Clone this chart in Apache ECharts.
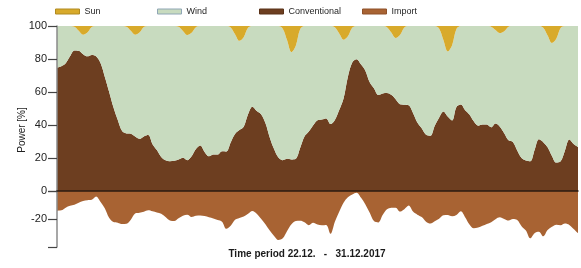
<!DOCTYPE html>
<html><head><meta charset="utf-8">
<script src="https://cdn.jsdelivr.net/npm/echarts@6/dist/echarts.min.js"></script>
<style>html,body{margin:0;padding:0;background:#fff}#c{width:581px;height:268px}</style>
</head><body><div id="c"></div>
<script>
// x categories: hours from 22.12. 00:00 to 01.01. 00:00, every 2 hours
const hours = [];
for (let h = 0; h <= 240; h += 2) hours.push(h);

const conventional = [
74.8,75.6,77.4,81.6,85.2,85.0,82.9,81.6,82.5,81.7,77.7,69.3,
60.2,50.7,43.0,36.3,34.9,34.7,33.0,31.6,33.1,33.9,28.4,24.8,
20.6,18.6,18.1,18.4,19.1,20.1,18.7,21.1,25.5,27.6,23.7,21.0,
22.1,22.1,24.1,24.0,29.4,34.5,36.9,39.0,46.5,51.1,48.5,46.5,
41.2,32.5,25.4,20.3,18.7,19.5,19.1,19.5,26.0,33.0,36.0,39.8,
42.9,43.4,44.0,40.6,43.1,49.1,56.1,69.2,77.9,79.9,76.8,73.1,
66.0,62.2,58.2,59.1,59.4,58.3,55.6,52.6,52.3,51.9,47.3,41.5,
38.0,34.1,33.5,39.6,44.4,48.2,45.1,42.7,50.9,52.4,49.0,46.4,
42.2,39.6,40.3,40.3,38.6,40.9,39.0,35.0,30.7,29.7,24.6,20.0,
18.5,18.0,24.8,31.3,29.6,26.5,21.2,17.2,18.0,24.6,31.2,28.5,
26.7];

const wind = [
25.2,24.4,22.6,18.4,14.3,12.1,11.8,14.4,16.9,18.3,22.3,30.7,
39.8,49.3,57.0,63.7,64.6,62.4,61.7,64.4,66.3,66.1,71.6,75.2,
79.4,81.4,81.9,81.6,80.4,76.9,75.8,74.8,73.8,72.4,76.3,79.0,
77.9,77.9,75.9,76.0,69.7,60.5,54.1,54.2,52.4,48.9,51.5,53.5,
58.8,67.5,74.6,79.7,79.7,71.8,65.1,68.6,72.1,67.0,64.0,60.2,
57.1,56.6,56.0,59.4,56.1,46.3,35.6,24.6,21.1,20.1,23.2,26.9,
34.0,37.8,41.8,40.9,39.9,37.7,37.1,41.9,46.8,48.1,52.7,58.5,
62.0,65.9,66.5,60.4,54.1,43.3,39.5,45.7,47.3,47.6,51.0,53.6,
57.8,60.4,59.7,59.7,61.0,56.7,56.7,61.8,68.8,70.3,75.4,80.0,
81.5,82.0,75.2,68.7,69.4,67.8,68.5,75.1,80.8,75.4,68.8,71.5,
73.3];

const sun = [
0,0,0,0,0.5,2.9,5.3,4.0,0.6,0,0,0,
0,0,0,0,0.5,2.9,5.3,4.0,0.6,0,0,0,
0,0,0,0,0.5,3.0,5.5,4.1,0.7,0,0,0,
0,0,0,0,0.9,5.0,9.0,6.8,1.1,0,0,0,
0,0,0,0,1.6,8.7,15.8,11.9,1.9,0,0,0,
0,0,0,0,0.8,4.6,8.3,6.2,1.0,0,0,0,
0,0,0,0,0.7,4.0,7.3,5.5,0.9,0,0,0,
0,0,0,0,1.5,8.5,15.4,11.6,1.8,0,0,0,
0,0,0,0,0.4,2.4,4.3,3.2,0.5,0,0,0,
0,0,0,0,1.0,5.7,10.3,7.7,1.2,0,0,0,
0];

const imports = [
-14.1,-13.8,-11.9,-10.6,-9.9,-8.4,-7.1,-6.6,-6.3,-4.0,-7.7,-12.3,
-19.1,-22.1,-22.6,-23.6,-23.4,-20.5,-16.1,-15.6,-14.8,-13.8,-14.5,-15.4,
-16.3,-18.6,-21.1,-21.5,-19.5,-17.6,-17.0,-18.6,-17.7,-17.5,-17.9,-18.7,
-19.6,-20.8,-21.9,-27.0,-24.9,-20.6,-19.3,-18.3,-16.3,-14.2,-16.2,-19.9,
-23.7,-28.3,-32.1,-35.0,-33.8,-28.6,-23.8,-21.4,-21.3,-22.3,-24.4,-22.7,
-24.0,-24.5,-24.2,-30.6,-22.0,-14.9,-8.4,-4.5,-2.5,-1.2,-4.7,-9.4,
-15.4,-21.5,-22.5,-17.2,-13.1,-12.0,-11.9,-14.7,-13.0,-10.4,-14.7,-16.9,
-18.6,-21.9,-23.3,-21.6,-19.9,-17.4,-17.2,-18.1,-17.2,-14.5,-18.7,-23.9,
-26.6,-26.1,-24.9,-23.5,-22.3,-20.1,-18.8,-20.0,-21.1,-20.0,-20.7,-25.1,
-28.2,-33.8,-30.1,-29.1,-32.4,-27.9,-25.6,-24.1,-24.4,-23.2,-24.2,-27.2,
-30.2];

const names = ['Sun', 'Wind', 'Conventional', 'Import'];
const colors = { Sun: '#D8AA2B', Wind: '#C8DBBF', Conventional: '#6D3E20', Import: '#A86333' };
const borders = { Sun: '#B08A20', Wind: '#8FA6B5', Conventional: '#5A3218', Import: '#8E5028' };
const legendLeft = [50, 152, 254, 357];
const yTitle = 'Power [%]';
const xTitle = 'Time period 22.12.   -   31.12.2017';

const font = 'Liberation Sans, Arial, sans-serif';
const chart = echarts.init(document.getElementById('c'), null, { renderer: 'canvas' });

function area(name, data, extra) {
  return Object.assign({
    name: name, type: 'line', data: data, symbol: 'none', smooth: 0.35,
    lineStyle: { width: 0 }, itemStyle: { color: colors[name] },
    areaStyle: { color: colors[name], opacity: 1 }, silent: true, animation: false
  }, extra);
}

const option = {
  animation: false,
  legend: names.map((n, i) => ({
    data: [{ name: n, itemStyle: { color: colors[n], borderColor: borders[n], borderWidth: 1 } }],
    left: legendLeft[i], top: 2, itemWidth: 24, itemHeight: 5, selectedMode: false,
    icon: 'rect',
    textStyle: { fontFamily: font, fontSize: 9, color: '#262626' }
  })),
  grid: [
    { left: 57, right: 3, top: 26, height: 165 },
    { left: 57, right: 3, top: 191, height: 56 }
  ],
  xAxis: [
    { type: 'category', gridIndex: 0, data: hours, boundaryGap: false, z: 10,
      axisLine: { show: true, lineStyle: { color: '#2b1b10', width: 1.5 } },
      axisTick: { show: false }, axisLabel: { show: false }, splitLine: { show: false } },
    { type: 'category', gridIndex: 1, data: hours, boundaryGap: false,
      axisLine: { show: false }, axisTick: { show: false }, axisLabel: { show: false }, splitLine: { show: false } }
  ],
  yAxis: [
    { type: 'value', gridIndex: 0, min: 0, max: 100, interval: 20, z: 10,
      axisLine: { show: true, lineStyle: { color: '#8a8a8a', width: 1.5 } },
      axisTick: { show: true, inside: false, length: 9, lineStyle: { color: '#444', width: 1.2 } },
      axisLabel: { margin: 10, fontFamily: font, fontSize: 11, color: '#222' },
      splitLine: { show: false } },
    { type: 'value', gridIndex: 1, min: -40, max: 0, interval: 20, z: 10,
      axisLine: { show: true, lineStyle: { color: '#8a8a8a', width: 1.5 } },
      axisTick: { show: true, inside: false, length: 9, lineStyle: { color: '#444', width: 1.2 } },
      axisLabel: { margin: 10, fontFamily: font, fontSize: 11, color: '#222',
        formatter: v => (v === -20 ? String(v) : '') },
      splitLine: { show: false } }
  ],
  series: [
    area('Conventional', conventional, { stack: 'mix' }),
    area('Wind', wind, { stack: 'mix' }),
    area('Sun', sun, { stack: 'mix' }),
    area('Import', imports, { xAxisIndex: 1, yAxisIndex: 1 })
  ],
  graphic: [
    { type: 'text', x: 22, y: 130, rotation: Math.PI / 2,
      style: { text: yTitle, fontFamily: font, fontSize: 10, fill: '#222', align: 'center', verticalAlign: 'middle' } },
    { type: 'text', x: 307, y: 254,
      style: { text: xTitle, fontFamily: font, fontSize: 10, fontWeight: 'bold', fill: '#1a1a1a', align: 'center', verticalAlign: 'middle' } }
  ]
};
chart.setOption(option);
</script>
</body></html>
